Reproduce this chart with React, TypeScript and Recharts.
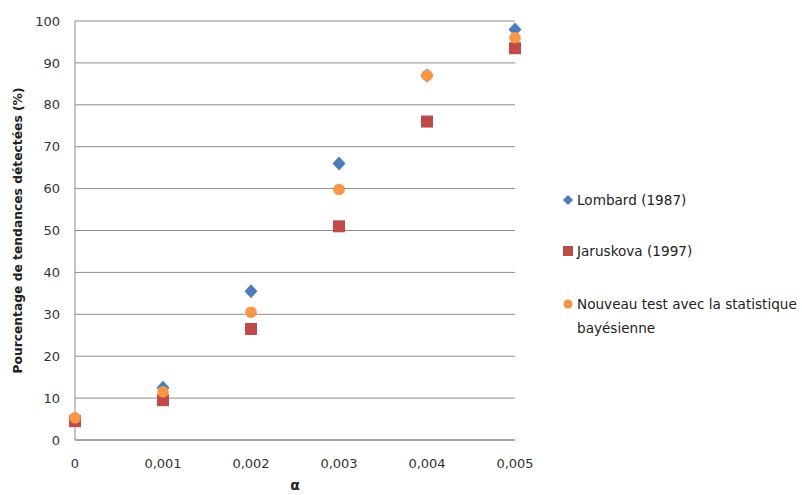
import {
  CartesianGrid,
  Scatter,
  ScatterChart,
  XAxis,
  YAxis,
} from 'recharts'

const ALPHAS = [0, 0.001, 0.002, 0.003, 0.004, 0.005]
const LOMBARD = [5, 12.5, 35.5, 66, 87, 98]
const JARUSKOVA = [4.5, 9.5, 26.5, 51, 76, 93.5]
const BAYES = [5.3, 11.5, 30.5, 59.8, 87, 96]
const Y_TICKS = [0, 10, 20, 30, 40, 50, 60, 70, 80, 90, 100]

const BLUE = '#4a7ebb'
const RED = '#be4b48'
const ORANGE = '#f79646'
const GRID = '#8c8c8c'
const FONT = '"DejaVu Sans", Verdana, sans-serif'

const toPoints = (values: number[]) =>
  values.map((y, i) => ({ x: ALPHAS[i], y }))

const formatAlpha = (v: number) => (v === 0 ? '0' : v.toFixed(3).replace('.', ','))

const Diamond = (props: any) => {
  const { cx, cy } = props
  return (
    <path
      d={`M${cx},${cy - 7} L${cx + 6.5},${cy} L${cx},${cy + 7} L${cx - 6.5},${cy} Z`}
      fill={BLUE}
    />
  )
}

const Square = (props: any) => {
  const { cx, cy } = props
  return <rect x={cx - 6} y={cy - 6} width={12} height={12} fill={RED} />
}

const Dot = (props: any) => {
  const { cx, cy } = props
  return <circle cx={cx} cy={cy} r={5.8} fill={ORANGE} />
}

const legendItems = [
  { label: ['Lombard (1987)'], top: 188, marker: 'diamond' },
  { label: ['Jaruskova (1997)'], top: 239, marker: 'square' },
  { label: ['Nouveau test avec la statistique', 'bayésienne'], top: 292, marker: 'circle' },
]

function LegendMarker({ type }: { type: string }) {
  if (type === 'diamond')
    return (
      <svg width={10} height={10} style={{ display: 'block' }}>
        <path d="M5,0 L10,5 L5,10 L0,5 Z" fill={BLUE} />
      </svg>
    )
  if (type === 'square')
    return (
      <svg width={10} height={10} style={{ display: 'block' }}>
        <rect width={10} height={10} fill={RED} />
      </svg>
    )
  return (
    <svg width={10} height={10} style={{ display: 'block' }}>
      <circle cx={5} cy={5} r={4.5} fill={ORANGE} />
    </svg>
  )
}

export default function App() {
  return (
    <div
      style={{
        position: 'absolute',
        left: 0,
        top: 0,
        width: 802,
        height: 495,
        background: '#fff',
        fontFamily: FONT,
      }}
    >
      <ScatterChart
        width={802}
        height={495}
        margin={{ top: 21, right: 287, bottom: 25, left: 15 }}
      >
        <CartesianGrid vertical={false} stroke={GRID} strokeWidth={1} />
        <XAxis
          type="number"
          dataKey="x"
          domain={[0, 0.005]}
          ticks={ALPHAS}
          tickFormatter={formatAlpha}
          stroke={GRID}
          tickLine={false}
          tickMargin={13}
          height={30}
          tick={{ fill: '#333', fontSize: 13, fontFamily: FONT }}
          label={{
            value: 'α',
            position: 'insideBottom',
            offset: -20,
            style: { fill: '#222', fontSize: 14, fontWeight: 'bold', fontFamily: FONT },
          }}
        />
        <YAxis
          type="number"
          dataKey="y"
          domain={[0, 100]}
          ticks={Y_TICKS}
          stroke={GRID}
          tickLine={false}
          tickMargin={9}
          width={60}
          tick={{ fill: '#333', fontSize: 13, fontFamily: FONT }}
          label={{
            value: 'Pourcentage de tendances détectées (%)',
            angle: -90,
            position: 'insideLeft',
            offset: 3,
            style: {
              textAnchor: 'middle',
              fill: '#222',
              fontSize: 12.3,
              fontWeight: 'bold',
              fontFamily: FONT,
            },
          }}
        />
        <Scatter
          name="Lombard (1987)"
          data={toPoints(LOMBARD)}
          shape={Diamond}
          isAnimationActive={false}
        />
        <Scatter
          name="Jaruskova (1997)"
          data={toPoints(JARUSKOVA)}
          shape={Square}
          isAnimationActive={false}
        />
        <Scatter
          name="Nouveau test avec la statistique bayésienne"
          data={toPoints(BAYES)}
          shape={Dot}
          isAnimationActive={false}
        />
      </ScatterChart>
      {legendItems.map((item) => (
        <div
          key={item.marker}
          style={{
            position: 'absolute',
            left: 563,
            top: item.top,
            display: 'flex',
            alignItems: 'flex-start',
            fontSize: 13.6,
            lineHeight: '24px',
            color: '#222',
            whiteSpace: 'nowrap',
          }}
        >
          <div style={{ marginTop: 7, marginRight: 4 }}>
            <LegendMarker type={item.marker} />
          </div>
          <div>
            {item.label.map((line) => (
              <div key={line}>{line}</div>
            ))}
          </div>
        </div>
      ))}
    </div>
  )
}
